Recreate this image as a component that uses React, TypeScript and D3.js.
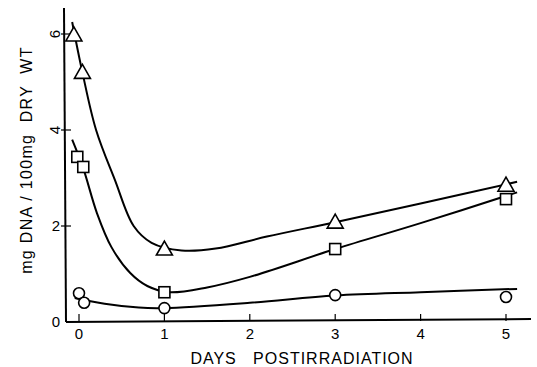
import React, { useEffect, useRef } from 'react'
import * as d3 from 'd3'

// measured points (day, mg DNA / 100mg dry wt)
const triangleDays = [-0.06, 0.04, 1, 3, 5]
const triangleVals = [5.98, 5.2, 1.52, 2.08, 2.85]
const squareDays = [-0.02, 0.05, 1, 3, 5]
const squareVals = [3.44, 3.23, 0.62, 1.52, 2.56]
const circleDays = [0, 0.06, 1, 3, 5]
const circleVals = [0.6, 0.4, 0.29, 0.56, 0.52]

// hand-drawn fitted curves
const triangleFit = [[-0.08, 6.25], [0.04, 5.2], [0.2, 4.0], [0.42, 2.96], [0.64, 2.0], [0.85, 1.65], [1.2, 1.49], [1.6, 1.53], [2.2, 1.78], [3, 2.08], [4, 2.47], [5.13, 2.92]]
const squareFit = [[-0.08, 3.8], [0.05, 3.2], [0.21, 2.27], [0.38, 1.56], [0.6, 1.02], [0.8, 0.75], [1.05, 0.62], [1.5, 0.72], [2, 0.94], [3, 1.52], [4, 2.06], [5.13, 2.7]]
const circleFit = [[-0.05, 0.5], [0.3, 0.38], [0.7, 0.3], [1, 0.29], [2, 0.4], [3, 0.55], [4, 0.62], [5.13, 0.69]]

const xTicks = [0, 1, 2, 3, 4, 5]
const yTicks = [0, 2, 4, 6]

const App = () => {
  const svgRef = useRef(null)

  useEffect(() => {
    const svg = d3.select(svgRef.current)
    svg.selectAll('*').remove()

    const x = d3.scaleLinear().domain([0, 5]).range([79, 506])
    const y = d3.scaleLinear().domain([0, 6]).range([322, 34])
    const font = 'Liberation Sans, Arial, sans-serif'

    // axes
    svg.append('line').attr('x1', 64).attr('y1', 8).attr('x2', 66).attr('y2', 322)
      .style('stroke', '#000').style('stroke-width', 2)
    svg.append('line').attr('x1', 66).attr('y1', 322).attr('x2', 531).attr('y2', 319)
      .style('stroke', '#000').style('stroke-width', 2)

    xTicks.forEach((t) => {
      svg.append('line').attr('x1', x(t)).attr('x2', x(t)).attr('y1', 321).attr('y2', 314)
        .style('stroke', '#000').style('stroke-width', 1.2)
      svg.append('text').attr('x', x(t)).attr('y', 339)
        .style('font', `15px ${font}`).style('text-anchor', 'middle').text(t)
    })

    yTicks.forEach((t) => {
      if (t > 0) {
        svg.append('line').attr('x1', 61).attr('x2', 71).attr('y1', y(t)).attr('y2', y(t))
          .style('stroke', '#000').style('stroke-width', 1.2)
      }
      const lbl = svg.append('text')
        .style('font', `15px ${font}`).style('text-anchor', 'middle').text(t)
      if (t >= 4) {
        lbl.attr('transform', `translate(55, ${y(t)}) rotate(-90)`).attr('dy', '0.35em')
      } else {
        lbl.attr('x', 56).attr('y', y(t) + 5)
      }
    })

    svg.append('text')
      .attr('transform', 'translate(32, 160) rotate(-90)')
      .style('font', `16px ${font}`).style('text-anchor', 'middle')
      .style('letter-spacing', '1.3px').attr('xml:space', 'preserve')
      .text('mg DNA / 100mg  DRY  WT')

    svg.append('text').attr('x', 302).attr('y', 364)
      .style('font', `16px ${font}`).style('text-anchor', 'middle')
      .style('letter-spacing', '1px').attr('xml:space', 'preserve')
      .text('DAYS   POSTIRRADIATION')

    // curves
    const line = d3.line().x((d) => x(d[0])).y((d) => y(d[1])).curve(d3.curveCatmullRom.alpha(0.5))
    ;[triangleFit, squareFit, circleFit].forEach((fit) => {
      svg.append('path').attr('d', line(fit))
        .style('fill', 'none').style('stroke', '#000').style('stroke-width', 2)
    })

    // markers
    const mk = { fill: '#fff', stroke: '#000', sw: 1.6 }
    triangleDays.forEach((d, i) => {
      const cx = x(d)
      const cy = y(triangleVals[i])
      svg.append('path')
        .attr('d', `M${cx},${cy - 8}L${cx + 8},${cy + 6}L${cx - 8},${cy + 6}Z`)
        .style('fill', mk.fill).style('stroke', mk.stroke).style('stroke-width', mk.sw)
    })
    squareDays.forEach((d, i) => {
      svg.append('rect').attr('x', x(d) - 5.5).attr('y', y(squareVals[i]) - 5.5)
        .attr('width', 11).attr('height', 11)
        .style('fill', mk.fill).style('stroke', mk.stroke).style('stroke-width', mk.sw)
    })
    circleDays.forEach((d, i) => {
      svg.append('circle').attr('cx', x(d)).attr('cy', y(circleVals[i])).attr('r', 5.5)
        .style('fill', mk.fill).style('stroke', mk.stroke).style('stroke-width', mk.sw)
    })
  }, [])

  return (
    <svg ref={svgRef} width={537} height={367}
      style={{ position: 'absolute', left: 0, top: 0, background: '#fff' }}></svg>
  )
}

export default App
